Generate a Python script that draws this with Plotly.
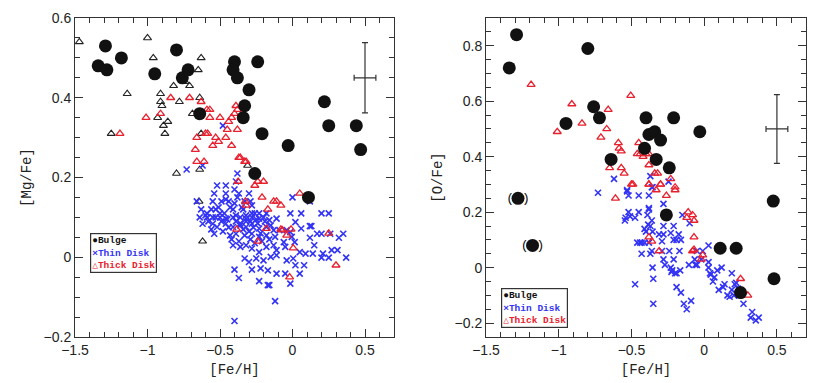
import plotly.graph_objects as go
from plotly.subplots import make_subplots

# ---------------- left panel: [Mg/Fe] vs [Fe/H] ----------------
bulge_fe_L = [-1.34, -1.29, -1.28, -1.18, -0.95, -0.80, -0.76, -0.72, -0.64, -0.40, -0.41, -0.38,
              -0.24, -0.30, -0.33, -0.34, -0.21, -0.03, 0.22, 0.25, 0.44, 0.47, -0.26, 0.11]
bulge_mg = [0.48, 0.53, 0.47, 0.50, 0.46, 0.52, 0.45, 0.47, 0.36, 0.49, 0.47, 0.45,
            0.49, 0.42, 0.38, 0.35, 0.31, 0.28, 0.39, 0.33, 0.33, 0.27, 0.21, 0.15]

other_fe_L = [-1.47, -1.25, -1.14, -1.00, -0.96, -0.91, -0.91, -0.90, -0.93, -0.89, -0.88, -0.86,
              -0.82, -0.78, -0.80, -0.74, -0.71, -0.65, -0.63, -0.64, -0.69, -0.63, -0.64, -0.31,
              -0.645, -0.62]
other_mg = [0.54, 0.31, 0.41, 0.55, 0.50, 0.41, 0.39, 0.38, 0.35, 0.33, 0.31, 0.34,
            0.43, 0.39, 0.21, 0.44, 0.43, 0.47, 0.50, 0.40, 0.36, 0.31, 0.22, 0.23,
            0.14, 0.04]

thick_fe_L = [-1.19, -1.01, -0.91, -0.84, -0.71, -0.63, -0.59, -0.57, -0.57, -0.50, -0.44, -0.42,
              -0.40, -0.39, -0.38, -0.38, -0.45, -0.66, -0.60, -0.585, -0.53, -0.51, -0.46, -0.55,
              -0.42, -0.67, -0.66, -0.61, -0.37, -0.36, -0.33, -0.32, -0.375, -0.26, -0.24, -0.20,
              0.05, -0.325, -0.32, -0.21, -0.17, -0.13, -0.11, -0.08, -0.385, -0.24, -0.18, -0.08,
              -0.07, -0.04, -0.01, 0.005, 0.25, 0.30, -0.02]
thick_mg = [0.31, 0.35, 0.36, 0.40, 0.40, 0.39, 0.37, 0.37, 0.35, 0.35, 0.34, 0.35,
            0.36, 0.38, 0.37, 0.32, 0.32, 0.30, 0.31, 0.31, 0.30, 0.29, 0.30, 0.28,
            0.28, 0.27, 0.24, 0.24, 0.25, 0.25, 0.24, 0.24, 0.19, 0.18, 0.19, 0.19,
            0.16, 0.14, 0.13, 0.15, 0.12, 0.14, 0.14, 0.13, 0.07, 0.04, 0.072, 0.07,
            0.068, 0.055, 0.07, 0.023, 0.06, -0.02, -0.05]

thin_fe_L = [-0.48, -0.73, -0.62, -0.38, -0.39, -0.52, -0.46, -0.40,
             -0.54, -0.46, -0.37, -0.30, 0.00, 0.12, -0.66, -0.55, -0.49, -0.44, -0.33, -0.29,
             -0.63, -0.59, -0.53, -0.50, -0.41, -0.34, -0.28, -0.23, -0.18, -0.015, 0.06, 0.20, 0.25,
             -0.64, -0.59, -0.55, -0.50, -0.46, -0.41, -0.36, -0.32, -0.28, -0.23, -0.16, -0.11, 0.02,
             -0.62, -0.55, -0.52, -0.46, -0.41, -0.36, -0.32, -0.28, -0.23, -0.18, -0.13, -0.09, -0.04,
             0.12, 0.13, -0.015, 0.06,
             -0.54, -0.43, -0.39, -0.33, -0.28, -0.23, -0.18, -0.12, -0.06, -0.005, 0.17, 0.20, 0.26,
             0.35, 0.32, 0.12, 0.015,
             -0.41, -0.36, -0.32, -0.28, -0.23, -0.18, -0.11, -0.05, 0.05, 0.09, 0.14, 0.21, 0.27, 0.31, 0.15,
             -0.33, -0.30, -0.25, -0.20, -0.15, -0.11, -0.04, 0.005, 0.20, 0.25, 0.37,
             -0.40, -0.28, -0.22, -0.17, -0.11, -0.05, 0.02, 0.08, 0.05,
             -0.37, -0.23, -0.17, -0.16, -0.015, -0.12, -0.40,
             -0.56, -0.51, -0.47, -0.43, -0.39, -0.35, -0.32, -0.29, -0.26, -0.24, -0.20,
             -0.49, -0.44, -0.39, -0.34, -0.30, -0.27, -0.22, -0.19, -0.15,
             -0.58, -0.56, -0.48, -0.42, -0.37, -0.29, -0.26, -0.21, -0.16, -0.13,
             -0.60, -0.53, -0.45, -0.36, -0.32, -0.28, -0.25, -0.40, -0.46, -0.38]
thin_mg = [0.33, 0.22, 0.23, 0.21, 0.19, 0.18, 0.18, 0.17,
           0.16, 0.16, 0.16, 0.16, 0.15, 0.14, 0.14, 0.14, 0.14, 0.14, 0.14, 0.14,
           0.12, 0.11, 0.12, 0.11, 0.12, 0.12, 0.13, 0.11, 0.11, 0.11, 0.11, 0.11, 0.11,
           0.10, 0.10, 0.10, 0.10, 0.097, 0.10, 0.10, 0.097, 0.10, 0.097, 0.093, 0.097, 0.088,
           0.084, 0.084, 0.076, 0.084, 0.076, 0.08, 0.076, 0.084, 0.072, 0.076, 0.068, 0.068, 0.068,
           0.078, 0.078, 0.063, 0.072,
           0.059, 0.055, 0.059, 0.055, 0.059, 0.051, 0.055, 0.051, 0.038, 0.051, 0.059, 0.059, 0.059,
           0.059, 0.049, 0.049, 0.038,
           0.03, 0.026, 0.03, 0.022, 0.013, 0.026, 0.018, 0.026, 0.013, 0.009, 0.009, 0.009, 0.018, 0.018, 0.03,
           -0.003, -0.012, -0.003, -0.008, 0.001, 0.005, -0.008, -0.003, -0.001, -0.001, -0.001,
           -0.031, -0.031, -0.028, -0.033, -0.041, -0.041, -0.02, -0.02, -0.041,
           -0.052, -0.06, -0.07, -0.07, -0.066, -0.11, -0.16,
           0.12, 0.125, 0.11, 0.125, 0.105, 0.125, 0.105, 0.09, 0.11, 0.085, 0.10,
           0.09, 0.075, 0.09, 0.07, 0.065, 0.075, 0.06, 0.09, 0.08,
           0.09, 0.07, 0.065, 0.045, 0.04, 0.045, 0.035, 0.04, 0.045, 0.03,
           0.105, 0.10, 0.095, 0.085, 0.09, 0.11, 0.095, 0.135, 0.145, 0.15]

# ---------------- right panel: [O/Fe] vs [Fe/H] ----------------
bulge_fe_R = [-1.34, -1.29, -0.80, -0.95, -0.76, -0.72, -0.64, -0.40, -0.38, -0.34, -0.30, -0.41,
              -0.33, -0.24, -0.21, -0.03, -1.28, -1.18, -0.26, 0.11, 0.22, 0.475, 0.48, 0.25]
bulge_o = [0.72, 0.84, 0.79, 0.52, 0.58, 0.54, 0.39, 0.54, 0.48, 0.49, 0.46, 0.43,
           0.39, 0.36, 0.54, 0.49, 0.25, 0.08, 0.19, 0.07, 0.07, 0.24, -0.04, -0.09]

# bulge stars flagged with parentheses
paren_fe = [-1.28, -1.18]
paren_o = [0.25, 0.08]

thick_fe_R = [-1.19, -1.01, -0.91, -0.84, -0.71, -0.66, -0.67, -0.505, -0.59, -0.585, -0.57, -0.65,
              -0.57, -0.55, -0.50, -0.45, -0.46, -0.44, -0.42, -0.40, -0.38, -0.38, -0.34, -0.32,
              -0.30, -0.38, -0.23, -0.20,
              -0.61, -0.49, -0.38, -0.30, -0.33, -0.26, -0.20, -0.11, -0.12, -0.08, -0.07, -0.38,
              -0.36, -0.31, -0.07, -0.08, -0.07, -0.01, -0.02, 0.25, 0.30]
thick_o = [0.66, 0.49, 0.59, 0.52, 0.47, 0.57, 0.50, 0.62, 0.45, 0.43, 0.42, 0.36,
           0.36, 0.34, 0.30, 0.45, 0.41, 0.41, 0.40, 0.41, 0.41, 0.37, 0.34, 0.34,
           0.30, 0.30, 0.32, 0.29,
           0.25, 0.30, 0.30, 0.30, 0.28, 0.26, 0.28, 0.20, 0.18, 0.19, 0.17, 0.11,
           0.095, 0.06, 0.11, 0.06, 0.065, 0.045, 0.03, -0.04, -0.10]

thin_fe_R = [-0.53, -0.73, -0.62, -0.53, -0.52, -0.45, -0.38, -0.355, -0.28, -0.245, -0.37, -0.36,
             -0.52, -0.51, -0.54, -0.545, -0.475, -0.45, -0.39, -0.36, -0.385, -0.41, -0.40, -0.37,
             -0.355, -0.38, -0.38, -0.28, -0.21, -0.15, -0.10, -0.31, -0.28, -0.23, -0.175, -0.29,
             -0.21, -0.19, -0.16, -0.46, -0.44, -0.41, -0.43, -0.38, -0.43, -0.37, -0.36, -0.29,
             -0.24, -0.17, -0.28, -0.21, -0.27, -0.23, -0.22, -0.20, -0.225, -0.165, -0.19, -0.355,
             -0.35, -0.475, -0.19, -0.16, -0.35, -0.14, -0.12, -0.09, -0.105, -0.06, -0.05, -0.05,
             -0.01, -0.065, -0.02, 0.03, 0.03, 0.03, 0.045, 0.07, 0.04, 0.06, 0.12, 0.09,
             0.10, 0.13, 0.14, 0.16, 0.175, 0.19, 0.22, 0.23, 0.24, 0.19, 0.27, 0.33,
             0.32, 0.355, 0.375, 0.205, 0.21]
thin_o = [0.28, 0.27, 0.32, 0.275, 0.26, 0.26, 0.26, 0.29, 0.23, 0.31, 0.33, 0.29,
          0.20, 0.185, 0.18, 0.17, 0.18, 0.20, 0.19, 0.17, 0.155, 0.14, 0.13, 0.15,
          0.13, 0.215, 0.21, 0.15, 0.15, 0.19, 0.16, 0.12, 0.12, 0.125, 0.12, 0.095,
          0.10, 0.10, 0.10, 0.09, 0.09, 0.09, 0.09, 0.09, 0.05, 0.05, 0.06, 0.06,
          0.06, 0.06, 0.03, 0.03, 0.01, 0.00, -0.01, -0.02, -0.015, -0.01, -0.02, 0.00,
          -0.04, -0.06, -0.07, -0.09, -0.13, -0.13, -0.15, -0.12, 0.01, 0.01, 0.01, 0.06,
          0.06, 0.03, 0.03, 0.02, 0.08, 0.00, -0.025, -0.035, -0.02, -0.05, 0.00, -0.01,
          -0.08, -0.07, -0.06, -0.10, -0.105, -0.02, -0.055, -0.075, -0.10, -0.08, -0.13, -0.16,
          -0.18, -0.19, -0.18, -0.10, -0.06]

# typical error bars
err_fe = [0.5]
err_mg = [0.45]
err_o = [0.5]
err_dfe = [0.075]
err_dmg = [0.088]
err_do = [0.124]

BLUE = "#3333f5"
RED = "#e8202e"
BLACK = "#111111"
TICK_FONT = dict(family="Liberation Sans, Arial", size=14, color="#222")
MONO = "Liberation Mono, DejaVu Sans Mono, monospace"

fig = make_subplots(rows=1, cols=2)


def add_panel(col, fe_thin, v_thin, fe_thick, v_thick, fe_bulge, v_bulge, err_y, err_dy):
    fig.add_trace(go.Scatter(x=fe_thin, y=v_thin, mode="markers", showlegend=False,
                             marker=dict(symbol="x-thin", size=6, line=dict(color=BLUE, width=1.6))),
                  row=1, col=col)
    fig.add_trace(go.Scatter(x=fe_thick, y=v_thick, mode="markers", showlegend=False,
                             marker=dict(symbol="triangle-up-open", size=7, color=RED,
                                         line=dict(width=1.3))),
                  row=1, col=col)
    fig.add_trace(go.Scatter(x=fe_bulge, y=v_bulge, mode="markers", showlegend=False,
                             marker=dict(symbol="circle", size=13, color=BLACK)),
                  row=1, col=col)
    fig.add_trace(go.Scatter(x=err_fe, y=err_y, mode="markers", showlegend=False,
                             marker=dict(size=1, color="rgba(0,0,0,0)"),
                             error_x=dict(type="data", array=err_dfe, color="#333", thickness=1.2, width=3),
                             error_y=dict(type="data", array=err_dy, color="#333", thickness=1.2, width=3)),
                  row=1, col=col)


# black open triangles (other thick-disk sample, left panel only)
fig.add_trace(go.Scatter(x=other_fe_L, y=other_mg, mode="markers", showlegend=False,
                         marker=dict(symbol="triangle-up-open", size=7, color="#222",
                                     line=dict(width=1.1))),
              row=1, col=1)
add_panel(1, thin_fe_L, thin_mg, thick_fe_L, thick_mg, bulge_fe_L, bulge_mg, err_mg, err_dmg)
add_panel(2, thin_fe_R, thin_o, thick_fe_R, thick_o, bulge_fe_R, bulge_o, err_o, err_do)

fig.add_trace(go.Scatter(x=paren_fe, y=paren_o, mode="text", text=["( )", "( )"], showlegend=False,
                         textfont=dict(family=MONO, size=13, color=BLACK), textposition="middle center"),
              row=1, col=2)

axis_common = dict(
    showgrid=False, zeroline=False, showline=True, linecolor="#333", linewidth=1,
    mirror="ticks", ticks="inside", ticklen=8, tickcolor="#333", tickwidth=1,
    tickfont=TICK_FONT, title_font=dict(family=MONO, size=14, color="#222"),
    automargin=False,
)
xaxis_common = dict(axis_common, range=[-1.5, 0.7], tick0=0, dtick=0.5,
                    minor=dict(ticks="inside", dtick=0.1, ticklen=5, tickcolor="#333"))

fig.update_xaxes(**xaxis_common)
fig.update_yaxes(**axis_common)

fig.update_layout(
    width=830, height=383,
    paper_bgcolor="white", plot_bgcolor="white",
    margin=dict(l=0, r=0, t=0, b=0),
    xaxis=dict(domain=[75 / 830, 394 / 830], title=dict(text="[Fe/H]", standoff=7)),
    xaxis2=dict(domain=[486 / 830, 806 / 830], title=dict(text="[Fe/H]", standoff=7)),
    yaxis=dict(domain=[1 - 337 / 383, 1 - 18 / 383], range=[-0.2, 0.6], dtick=0.2,
               minor=dict(ticks="inside", dtick=0.05, ticklen=5, tickcolor="#333"),
               title=dict(text="[Mg/Fe]", standoff=8)),
    yaxis2=dict(domain=[1 - 337 / 383, 1 - 18 / 383], range=[-0.25, 0.9], tick0=0, dtick=0.2,
                minor=dict(ticks="inside", dtick=0.05, ticklen=5, tickcolor="#333"),
                title=dict(text="[O/Fe]", standoff=8)),
)

# hand-drawn legends: one boxed text block per panel
legend_text = ("<b>●Bulge</b><br><span style='color:%s'><b>×Thin Disk</b></span><br>"
               "<span style='color:%s'><b>△Thick Disk</b></span>" % (BLUE, RED))
for lx, ly in [(90, 233), (501, 288)]:
    fig.add_annotation(xref="paper", yref="paper", x=lx / 830, y=1 - ly / 383,
                       xanchor="left", yanchor="top", align="left", showarrow=False,
                       text=legend_text, bgcolor="white", bordercolor="#333", borderwidth=1.2,
                       borderpad=1, font=dict(family=MONO, size=9.5, color=BLACK))

# drop the default page margin so the 830x383 figure fills the window exactly
fig.write_html("out.html", config={"displayModeBar": False},
               post_script="document.body.style.margin='0px';")
